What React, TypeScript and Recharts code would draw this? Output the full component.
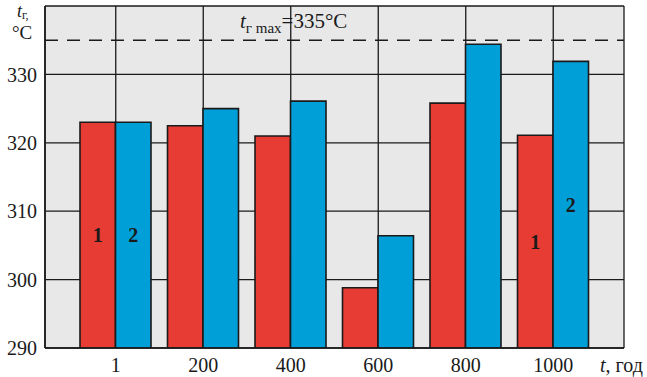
import { BarChart, Bar, XAxis, YAxis, CartesianGrid, ReferenceLine, LabelList, Label } from 'recharts';

// operating time, hours
const categories = ['1', '200', '400', '600', '800', '1000'];
// gas temperature, °C
const series1 = [323, 322.5, 321, 298.8, 325.8, 321.1];
const series2 = [323, 325, 326.1, 306.4, 334.4, 331.9];
const yTicks = [290, 300, 310, 320, 330];
const yDomain = [290, 340];
const tMax = 335;
// categories whose bars carry the series number
const numberedBars = [0, 5];

const RED = '#e63c34';
const BLUE = '#009fd8';
const INK = '#1a1a1a';
const FONT = '"Liberation Serif", "Times New Roman", serif';

const data = categories.map((t, i) => ({ t, s1: series1[i], s2: series2[i] }));

const seriesNumber = (num: string) => (props: any) => {
  const { x, y, width, height, index } = props;
  if (!numberedBars.includes(index)) return null;
  return (
    <text
      x={x + width / 2}
      y={y + height / 2}
      textAnchor="middle"
      dominantBaseline="central"
      fontFamily={FONT}
      fontWeight="bold"
      fontSize={20}
      fill={INK}
    >
      {num}
    </text>
  );
};

const TMaxLabel = ({ viewBox }: any) => (
  <text x={viewBox.x + 195} y={viewBox.y - 12} fontFamily={FONT} fontSize={21} fill={INK}>
    <tspan fontStyle="italic">t</tspan>
    <tspan fontSize={15} dy={5}>г max</tspan>
    <tspan dy={-5}>=335°C</tspan>
  </text>
);

const YUnit = ({ viewBox }: any) => (
  <g fontFamily={FONT} fill={INK}>
    <text x={viewBox.x + 17} y={viewBox.y + 11} fontSize={18}>
      <tspan fontStyle="italic">t</tspan>
      <tspan fontSize={12} dy={2}>г,</tspan>
    </text>
    <text x={viewBox.x + 12} y={viewBox.y + 33} fontSize={19}>°C</text>
  </g>
);

const XUnit = ({ viewBox }: any) => (
  <text x={viewBox.x + viewBox.width - 24} y={viewBox.y + 24} fontFamily={FONT} fontSize={20} fill={INK}>
    <tspan fontStyle="italic">t</tspan>
    <tspan>, год</tspan>
  </text>
);

export default function App() {
  const tick = { fontFamily: FONT, fontSize: 20, fill: INK };
  return (
    <div style={{ position: 'absolute', left: 0, top: 0, background: '#fff' }}>
      <BarChart
        width={647}
        height={377}
        data={data}
        margin={{ top: 6, right: 23, bottom: 0, left: 0 }}
        barGap={0}
        barSize={35.5}
      >
        <CartesianGrid fill="#e8e8e8" fillOpacity={1} stroke={INK} strokeWidth={1.3} />
        <XAxis
          dataKey="t"
          height={29}
          padding={{ left: 27, right: 27 }}
          tickLine={false}
          tickSize={0}
          tickMargin={10}
          tick={tick}
          axisLine={{ stroke: INK, strokeWidth: 1.6 }}
        >
          <Label content={XUnit} />
        </XAxis>
        <XAxis
          xAxisId="top"
          dataKey="t"
          orientation="top"
          height={0}
          padding={{ left: 27, right: 27 }}
          tick={false}
          tickLine={false}
          axisLine={{ stroke: INK, strokeWidth: 1.6 }}
        />
        <YAxis
          width={45}
          domain={yDomain}
          ticks={yTicks}
          allowDataOverflow
          tickLine={false}
          tickSize={0}
          tickMargin={8}
          tick={tick}
          axisLine={{ stroke: INK, strokeWidth: 1.6 }}
        >
          <Label content={YUnit} />
        </YAxis>
        <YAxis
          yAxisId="r"
          orientation="right"
          width={0}
          domain={yDomain}
          tick={false}
          tickLine={false}
          axisLine={{ stroke: INK, strokeWidth: 1.6 }}
        />
        <ReferenceLine
          y={tMax}
          stroke={INK}
          strokeWidth={1.5}
          strokeDasharray="13 9"
          label={<TMaxLabel />}
        />
        <Bar dataKey="s1" fill={RED} stroke={INK} strokeWidth={1.6} isAnimationActive={false}>
          <LabelList dataKey="s1" content={seriesNumber('1')} />
        </Bar>
        <Bar dataKey="s2" fill={BLUE} stroke={INK} strokeWidth={1.6} isAnimationActive={false}>
          <LabelList dataKey="s2" content={seriesNumber('2')} />
        </Bar>
      </BarChart>
    </div>
  );
}
